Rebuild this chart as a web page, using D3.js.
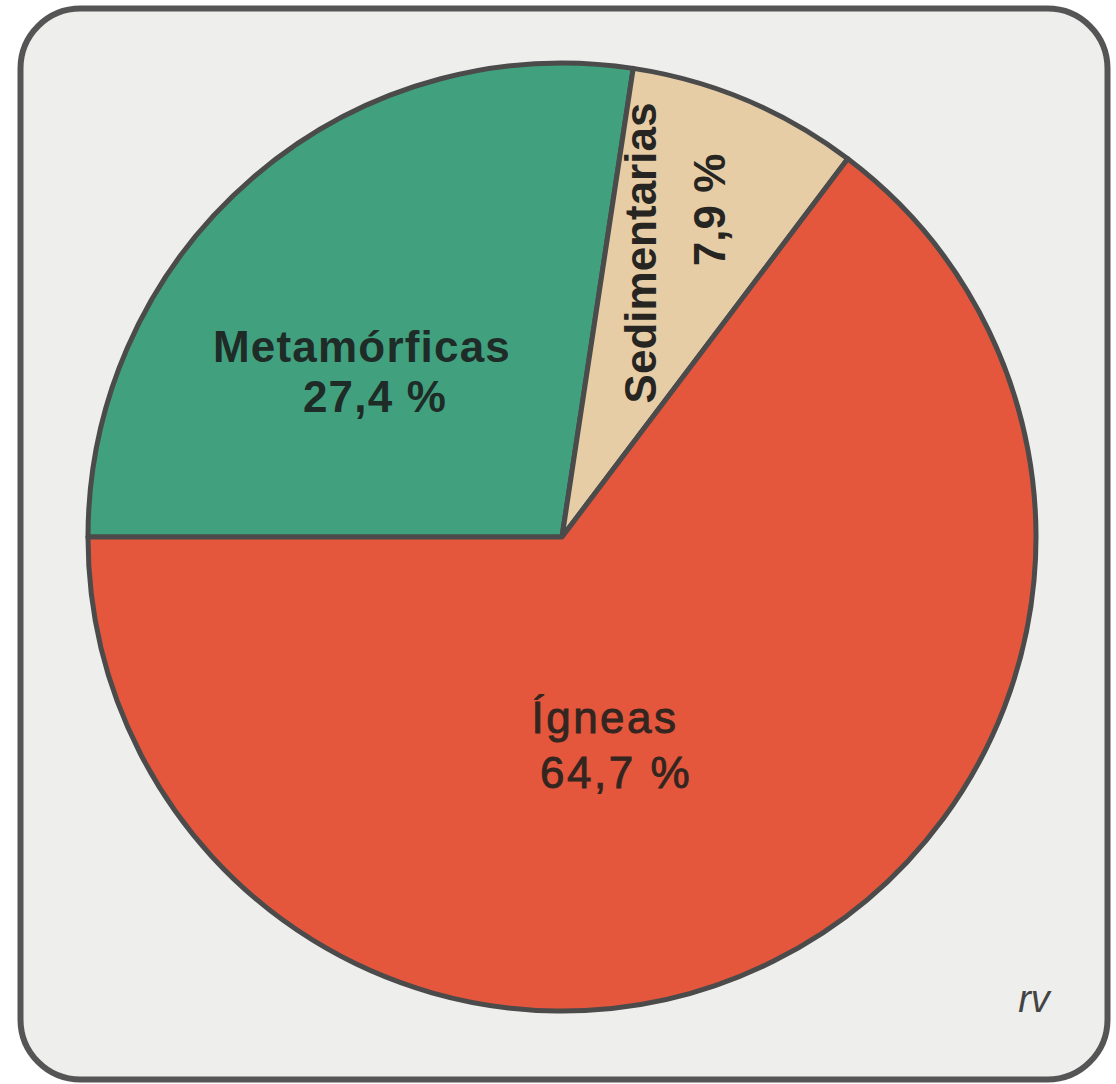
<!DOCTYPE html>
<html>
<head>
<meta charset="utf-8">
<script src="https://cdn.jsdelivr.net/npm/d3@7/dist/d3.min.js"></script>
<style>
  html, body { margin: 0; padding: 0; background: #ffffff; }
  svg { display: block; }
</style>
</head>
<body>
<svg id="chart" width="1116" height="1084"></svg>
<script>
// Rock types and their share (%)
const categories = ["Metamórficas", "Sedimentarias", "Ígneas"];
const shares = [27.4, 7.9, 64.7];
const valueLabels = ["27,4 %", "7,9 %", "64,7 %"];
const sliceColors = ["#41a17f", "#e6cda6", "#e4573d"];

const svg = d3.select("#chart");

// Rounded panel behind the chart
svg.append("rect")
  .attr("x", 20.5).attr("y", 8.5)
  .attr("width", 1087).attr("height", 1071)
  .attr("rx", 60).attr("ry", 60)
  .attr("fill", "#eeeeed")
  .attr("stroke", "#555555")
  .attr("stroke-width", 6);

const cx = 562, cy = 537, radius = 474;

const pie = d3.pie()
  .sort(null)
  .value(d => d.value)
  .startAngle(-Math.PI / 2)
  .endAngle(1.5 * Math.PI);

const data = categories.map((c, i) => ({ name: c, value: shares[i], label: valueLabels[i], color: sliceColors[i] }));
const arcs = pie(data);

const arc = d3.arc().innerRadius(0).outerRadius(radius);

const g = svg.append("g").attr("transform", `translate(${cx},${cy})`);

g.selectAll("path.slice")
  .data(arcs)
  .join("path")
  .attr("class", "slice")
  .attr("d", arc)
  .attr("fill", d => d.data.color)
  .attr("stroke", "#4b4b4b")
  .attr("stroke-width", 5)
  .attr("stroke-linejoin", "round");

// Slice labels (offsets relative to the pie centre)
const labelLayout = {
  "Metamórficas": { name: [-200, -175], value: [-187, -125], rotate: 0, weight: "bold", spacing: 1.2, thicken: 0, color: "#1f2b27" },
  "Sedimentarias": { name: [94, -284], value: [163, -327], rotate: -90, weight: "bold", spacing: 0, thicken: 0, color: "#272522" },
  "Ígneas": { name: [43, 196], value: [54, 251], rotate: 0, weight: "normal", spacing: 2.5, thicken: 0.9, color: "#33251f" }
};

const labels = g.selectAll("g.label")
  .data(arcs)
  .join("g")
  .attr("class", "label");

labels.each(function(d) {
  const L = labelLayout[d.data.name];
  const sel = d3.select(this);
  const lines = [[d.data.name, L.name], [d.data.label, L.value]];
  lines.forEach(([txt, pos]) => {
    const t = sel.append("text")
      .attr("transform", `translate(${pos[0]},${pos[1]}) rotate(${L.rotate})`)
      .attr("text-anchor", "middle")
      .attr("font-family", "Liberation Sans, Arial, sans-serif")
      .attr("font-size", 44)
      .attr("font-weight", L.weight)
      .attr("letter-spacing", L.spacing)
      .attr("fill", L.color)
      .text(txt);
    if (L.thicken > 0) {
      t.attr("stroke", L.color).attr("stroke-width", L.thicken);
    }
  });
});

// Author initials
svg.append("text")
  .attr("x", 1034).attr("y", 1012)
  .attr("text-anchor", "middle")
  .attr("font-family", "Liberation Sans, Arial, sans-serif")
  .attr("font-style", "italic")
  .attr("font-size", 38)
  .attr("fill", "#444444")
  .text("rv");
</script>
</body>
</html>
